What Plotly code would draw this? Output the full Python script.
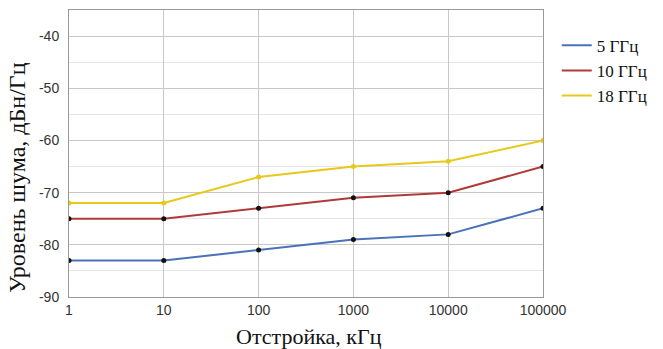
import plotly.graph_objects as go

offsets = [1, 10, 100, 1000, 10000, 100000]
s5 = [-83, -83, -81, -79, -78, -73]
s10 = [-75, -75, -73, -71, -70, -65]
s18 = [-72, -72, -67, -65, -64, -60]
y_ticks = [-90, -80, -70, -60, -50, -40]
names = ["5 ГГц", "10 ГГц", "18 ГГц"]
colors = ["#4a72b8", "#b03a3a", "#e8c81a"]
marker_colors = ["#111111", "#111111", "#e8c81a"]
x_title = "Отстройка, кГц"
y_title = "Уровень шума, дБн/Гц"

fig = go.Figure()
for name, ys, c, mc in zip(names, [s5, s10, s18], colors, marker_colors):
    fig.add_trace(go.Scatter(x=offsets, y=ys, name=name, mode="lines+markers",
                             line=dict(color=c, width=2),
                             marker=dict(color=mc, size=5), showlegend=False))
    fig.add_trace(go.Scatter(x=[None], y=[None], name=name, mode="lines",
                             line=dict(color=c, width=2)))

title_font = dict(family="Liberation Serif", color="#111")

fig.update_layout(
    width=663, height=349,
    margin=dict(l=69, r=120, t=10, b=52),
    paper_bgcolor="white", plot_bgcolor="white",
    showlegend=True,
    legend=dict(x=1.029, y=0.938, xanchor="left", yanchor="top",
                font=dict(family="Liberation Serif", size=17, color="#111"),
                tracegroupgap=0, itemwidth=30),
    xaxis=dict(type="log", range=[0, 5], tickvals=offsets,
               ticktext=[str(v) for v in offsets], automargin=False,
               showgrid=True, gridcolor="#c8c8c8", gridwidth=1,
               showline=True, linecolor="#999", mirror=True,
               tickfont=dict(family="Liberation Sans", size=14, color="#333"),
               zeroline=False),
    yaxis=dict(range=[-90, -35], tickvals=y_ticks, automargin=False,
               ticktext=["-" + str(-v) for v in y_ticks],
               showgrid=True, gridcolor="#c8c8c8", gridwidth=1,
               minor=dict(dtick=5, showgrid=True, gridcolor="#e6e6e6", gridwidth=1),
               showline=True, linecolor="#999", mirror=True,
               tickfont=dict(family="Liberation Sans", size=14, color="#333"),
               ticklabelstandoff=6,
               zeroline=False),
    annotations=[
        dict(text=x_title, xref="paper", yref="paper", x=0.5063, y=-0.1376,
             xanchor="center", yanchor="middle", showarrow=False,
             font=dict(size=22, **title_font)),
        dict(text=y_title, xref="paper", yref="paper", x=-0.1097, y=0.4146,
             xanchor="center", yanchor="middle", showarrow=False, textangle=-90,
             font=dict(size=24, **title_font)),
    ],
)
# remove the default 8px page margin so the figure fills the window exactly
fig.write_html("out.html", config={"displayModeBar": False},
               post_script="document.body.style.margin='0';document.body.style.overflow='hidden';")
